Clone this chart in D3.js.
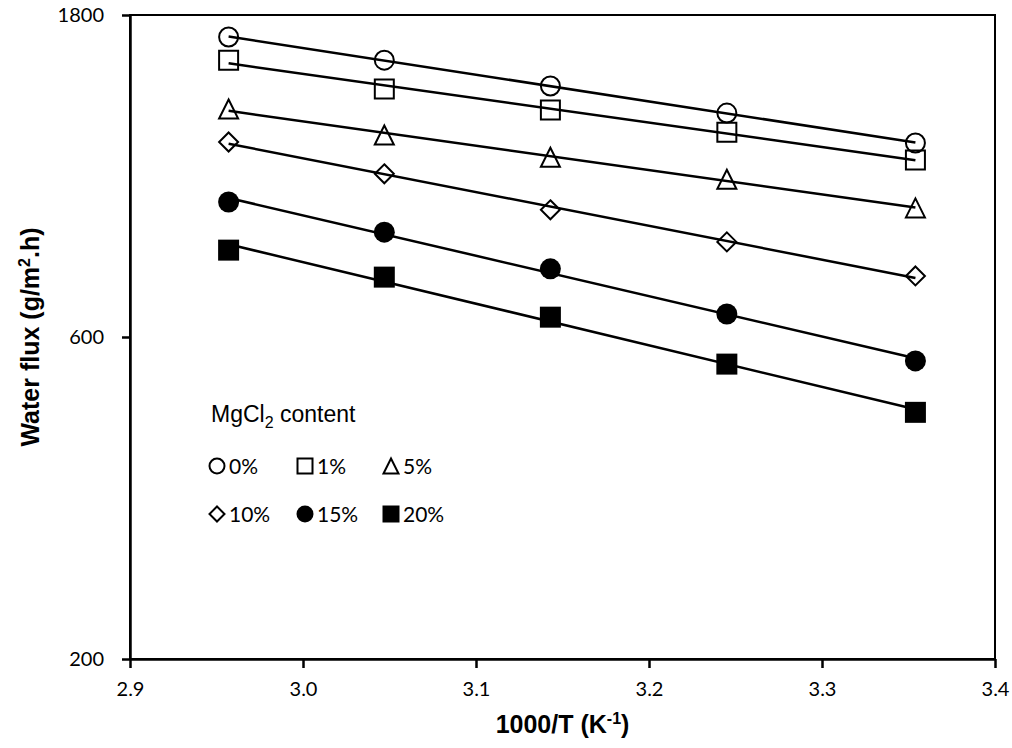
<!DOCTYPE html>
<html>
<head>
<meta charset="utf-8">
<script src="https://cdn.jsdelivr.net/npm/d3@7"></script>
<style>
    body { margin: 0; background: #fff; }
    svg { display: block; }
    .tick-label { font-family: Lato, "Open Sans", sans-serif; font-size: 20px; fill: #000; }
    .axis-title { font-family: "Liberation Sans", Arial, sans-serif; font-size: 25px; font-weight: bold; fill: #000; }
    .legend-title { font-family: "Liberation Sans", Arial, sans-serif; font-size: 23px; fill: #000; }
    .legend-label { font-family: Lato, "Open Sans", sans-serif; font-size: 21px; fill: #000; }
</style>
</head>
<body>
<svg id="svg" width="1012" height="748"></svg>
<script>
// 1000/T in K^-1 (T = 65, 55, 45, 35, 25 °C)
const invTemps = [2.957, 3.047, 3.143, 3.245, 3.354]

// MgCl2 content series
const seriesNames = ['0%', '1%', '5%', '10%', '15%', '20%']
const seriesShapes = ['circle', 'square', 'triangle', 'diamond', 'circle', 'square']
const seriesFilled = [false, false, false, false, true, true]

// water flux, g/m2.h
const flux0 = [1670, 1543, 1413, 1288, 1163]
const flux1 = [1543, 1398, 1302, 1207, 1098]
const flux5 = [1306, 1195, 1108, 1028, 932]
const flux10 = [1167, 1047, 926, 830, 739]
const flux15 = [951, 858, 757, 649, 553]
const flux20 = [807, 736, 642, 547, 464]
const fluxSeries = [flux0, flux1, flux5, flux10, flux15, flux20]

// axis ticks
const xMajorTicks = [2.9, 3.0, 3.1, 3.2, 3.3, 3.4]
const xMinorTicks = [2.92, 2.94, 2.96, 2.98, 3.02, 3.04, 3.06, 3.08, 3.12, 3.14, 3.16, 3.18,
    3.22, 3.24, 3.26, 3.28, 3.32, 3.34, 3.36, 3.38]
const yMajorTicks = [200, 600, 1800]
const yMinorTicks = [400, 1200]

const drawChart = () => {
    const width = 1012
    const height = 748
    const margin = { top: 15, right: 17, bottom: 89, left: 130 }
    const svg = d3.select('#svg')

    const xScale = d3.scaleLinear()
        .domain([2.9, 3.4])
        .range([margin.left, width - margin.right])

    const yScale = d3.scaleLog()
        .base(3)
        .domain([200, 1800])
        .range([height - margin.bottom, margin.top])

    // plot frame
    svg.append('rect')
        .attr('x', margin.left)
        .attr('y', margin.top)
        .attr('width', width - margin.right - margin.left)
        .attr('height', height - margin.bottom - margin.top)
        .attr('fill', 'none')
        .attr('stroke', '#000')
        .attr('stroke-width', 2)

    // x axis
    const xAxisG = svg.append('g').attr('transform', `translate(0,${height - margin.bottom})`)
    xAxisG.call(d3.axisBottom(xScale).tickValues(xMinorTicks).tickSize(6).tickFormat(''))
    xAxisG.call(d3.axisBottom(xScale).tickValues(xMajorTicks).tickSize(9).tickSizeOuter(0).tickPadding(14).tickFormat(d3.format('.1f')))
    xAxisG.selectAll('.domain').attr('stroke-width', 2.5)
    xAxisG.selectAll('line').attr('stroke-width', 2.5)
    xAxisG.selectAll('text').attr('class', 'tick-label').attr('font-size', null).attr('font-family', null)

    // y axis
    const yAxisG = svg.append('g').attr('transform', `translate(${margin.left},0)`)
    yAxisG.call(d3.axisLeft(yScale).tickValues(yMinorTicks).tickSize(6).tickFormat(''))
    yAxisG.call(d3.axisLeft(yScale).tickValues(yMajorTicks).tickSize(8).tickSizeOuter(0).tickPadding(18).tickFormat(d3.format('d')))
    yAxisG.selectAll('.domain').attr('stroke-width', 2.5)
    yAxisG.selectAll('line').attr('stroke-width', 2.5)
    yAxisG.selectAll('text').attr('class', 'tick-label').attr('font-size', null).attr('font-family', null)

    // axis titles
    svg.append('text')
        .attr('class', 'axis-title')
        .attr('x', (margin.left + width - margin.right) / 2)
        .attr('y', 733)
        .attr('text-anchor', 'middle')
        .html('1000/T (K<tspan dy="-9" font-size="16">-1</tspan><tspan dy="9">)</tspan>')

    svg.append('text')
        .attr('class', 'axis-title')
        .attr('transform', `translate(39,${(margin.top + height - margin.bottom) / 2}) rotate(-90)`)
        .attr('text-anchor', 'middle')
        .html('Water flux (g/m<tspan dy="-9" font-size="16">2</tspan><tspan dy="9">.h)</tspan>')

    // marker path for a shape of outer size s
    const markerPath = (shape, s) => {
        const h = s / 2
        if (shape === 'circle') {
            return d3.symbol(d3.symbolCircle, Math.PI * h * h)()
        }
        if (shape === 'square') {
            return `M${-h},${-h}H${h}V${h}H${-h}Z`
        }
        if (shape === 'triangle') {
            return `M0,${-h}L${h},${h}L${-h},${h}Z`
        }
        return `M0,${-h}L${h},0L0,${h}L${-h},0Z`
    }

    // exponential trendlines (least squares on ln y)
    const fitLine = (xs, ys) => {
        const n = xs.length
        const ly = ys.map((v) => Math.log(v))
        const mx = d3.mean(xs)
        const my = d3.mean(ly)
        let sxy = 0
        let sxx = 0
        for (let i = 0; i < n; i++) {
            sxy += (xs[i] - mx) * (ly[i] - my)
            sxx += (xs[i] - mx) * (xs[i] - mx)
        }
        const b = sxy / sxx
        const a = my - b * mx
        return (x) => Math.exp(a + b * x)
    }

    const line = d3.line()
        .x((d) => xScale(d[0]))
        .y((d) => yScale(d[1]))

    const groupLines = svg.append('g').attr('class', 'trendlines')
    const groupMarkers = svg.append('g').attr('class', 'markers')

    fluxSeries.forEach((values, i) => {
        const f = fitLine(invTemps, values)
        const x0 = invTemps[0]
        const x1 = invTemps[invTemps.length - 1]
        groupLines.append('path')
            .attr('d', line([[x0, f(x0)], [x1, f(x1)]]))
            .attr('fill', 'none')
            .attr('stroke', '#000')
            .attr('stroke-width', 2.5)

        const filled = seriesFilled[i]
        groupMarkers.selectAll(`.m${i}`)
            .data(values)
            .join('path')
            .attr('class', `m${i}`)
            .attr('transform', (d, j) => `translate(${xScale(invTemps[j])},${yScale(d)})`)
            .attr('d', markerPath(seriesShapes[i], filled ? 21 : 19))
            .attr('fill', filled ? '#000' : 'none')
            .attr('stroke', filled ? 'none' : '#000')
            .attr('stroke-width', 2)
    })

    // trendlines drawn over the markers, as in the original
    groupLines.raise()

    // legend
    const legend = svg.append('g').attr('class', 'legend')
    legend.append('text')
        .attr('class', 'legend-title')
        .attr('x', 211)
        .attr('y', 422)
        .html('MgCl<tspan dy="6" font-size="16">2</tspan><tspan dy="-6"> content</tspan>')

    const legendX = [217, 305, 391]
    const legendY = [466, 514]
    seriesNames.forEach((name, i) => {
        const cx = legendX[i % 3]
        const cy = legendY[Math.floor(i / 3)]
        const filled = seriesFilled[i]
        legend.append('path')
            .attr('transform', `translate(${cx},${cy})`)
            .attr('d', markerPath(seriesShapes[i], filled ? 17 : 15))
            .attr('fill', filled ? '#000' : 'none')
            .attr('stroke', filled ? 'none' : '#000')
            .attr('stroke-width', 2)
        legend.append('text')
            .attr('class', 'legend-label')
            .attr('x', cx + 12)
            .attr('y', cy)
            .attr('dy', '0.36em')
            .text(name)
    })
}

drawChart()
</script>
</body>
</html>
